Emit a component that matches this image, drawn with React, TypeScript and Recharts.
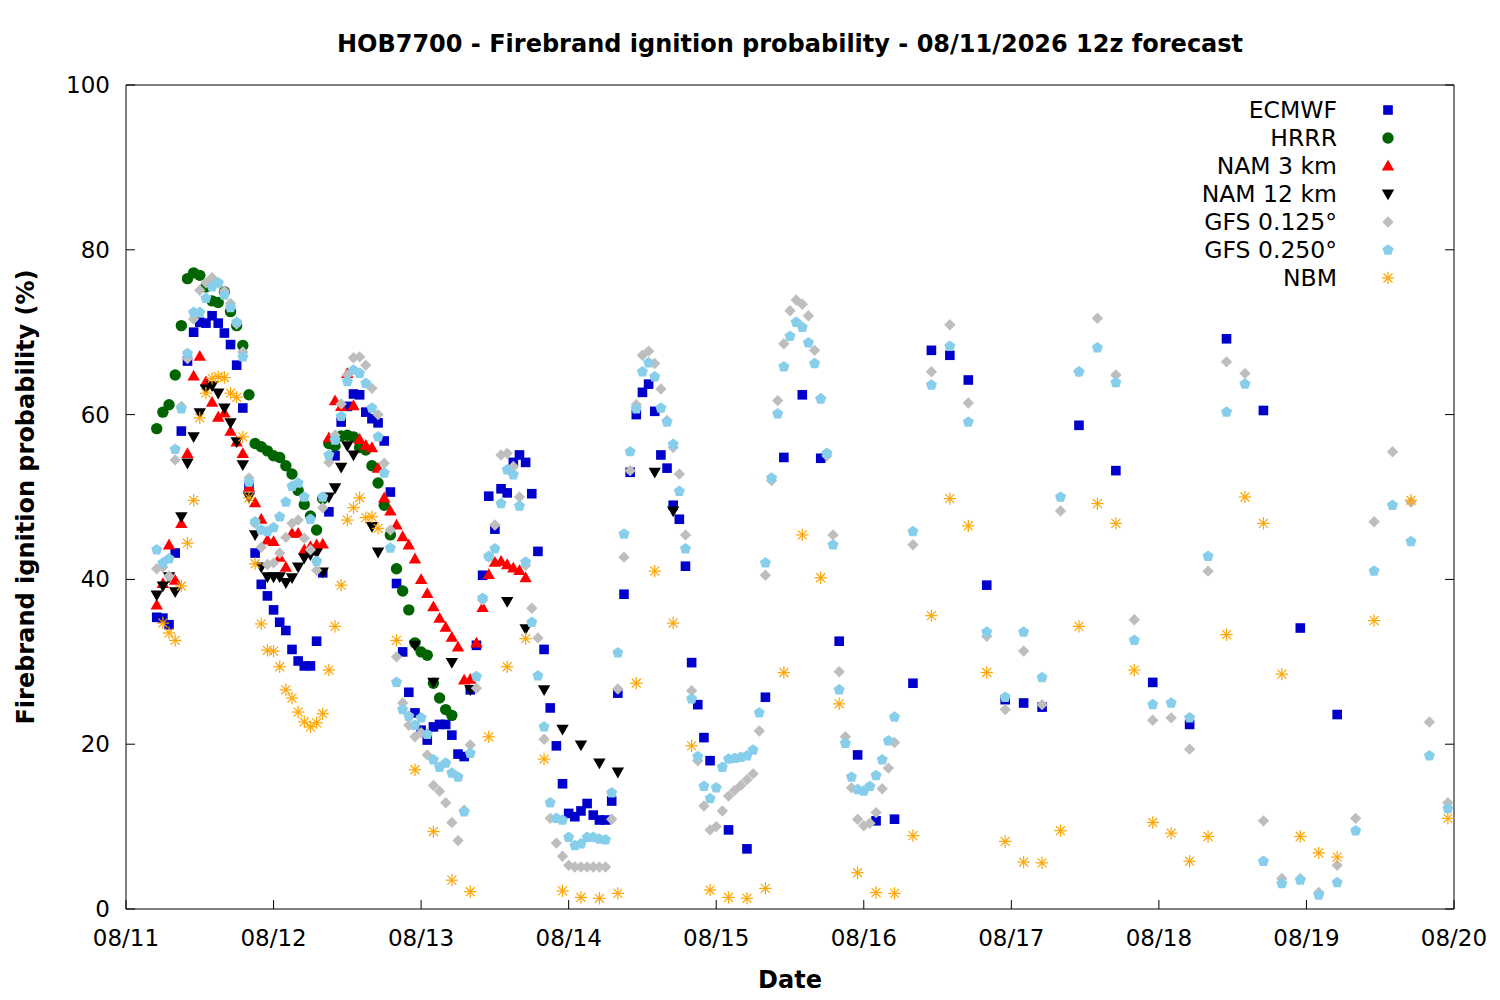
import React from 'react';
import { ScatterChart, Scatter, XAxis, YAxis, Legend } from 'recharts';

// hours since 08/11 00 local; forecast hour 0 (12z) falls at hour 5
const range = (from: number, to: number, step: number) => {
  const out: number[] = [];
  for (let h = from; h <= to; h += step) out.push(h);
  return out;
};

const dayTicks = [0, 24, 48, 72, 96, 120, 144, 168, 192, 216];
const dayLabels = ['08/11', '08/12', '08/13', '08/14', '08/15', '08/16', '08/17', '08/18', '08/19', '08/20'];
const probTicks = [0, 20, 40, 60, 80, 100];

const ecmwfHours = [...range(5, 95, 1), ...range(98, 149, 3), ...range(155, 197, 6)];
const ecmwfValues = [
  35.4, 35.3, 34.5, 43.2, 58.0, 66.5, 70.0, 71.2, 71.1, 72.0,
  71.1, 69.9, 68.5, 66.0, 60.8, 51.3, 43.2, 39.4, 38.0, 36.3,
  34.8, 33.8, 31.5, 30.1, 29.5, 29.5, 32.5, 40.8, 48.2, 55.0,
  59.1, 61.0, 62.5, 62.4, 60.3, 59.5, 59.0, 56.8, 50.6, 39.5,
  31.2, 26.3, 23.8, 21.7, 20.5, 22.1, 22.4, 22.4, 21.1, 18.8,
  18.5, 26.6, 32.0, 40.5, 50.1, 46.1, 51.0, 50.5, 54.2, 55.1,
  54.2, 50.4, 43.4, 31.5, 24.4, 19.8, 15.2, 11.6, 11.2, 11.9,
  12.8, 11.4, 10.8, 10.8, 13.1, 26.2, 38.2, 53.0, 60.0, 62.7,
  63.7, 60.4, 55.1, 53.5, 49.0, 47.3, 41.6, 29.9, 24.8, 20.8,
  18.0,
  9.6, 7.3, 25.7, 54.8, 62.4, 54.7, 32.5, 18.7, 10.7, 10.9,
  27.4, 67.8, 67.2, 64.2, 39.3, 25.4, 25.0, 24.5,
  58.7, 53.2, 27.5, 22.4, 69.2, 60.5, 34.1, 23.6,
];

const hrrrHours = range(5, 53, 1);
const hrrrValues = [
  58.3, 60.3, 61.2, 64.8, 70.8, 76.5, 77.2, 76.9, 75.5, 73.8,
  73.6, 74.9, 72.5, 70.8, 68.4, 62.4, 56.5, 56.1, 55.6, 55.0,
  54.8, 53.8, 52.8, 50.8, 49.1, 47.7, 46.0, 49.8, 56.5, 56.2,
  57.4, 57.5, 57.3, 56.0, 55.7, 53.8, 51.7, 49.0, 45.4, 41.3,
  38.6, 36.3, 32.3, 31.2, 30.8, 27.4, 25.6, 24.2, 23.5,
];

const nam3Hours = range(5, 65, 1);
const nam3Values = [
  36.9, 39.5, 44.2, 39.9, 46.8, 55.3, 64.7, 67.1, 64.0, 61.5,
  59.7, 60.2, 58.0, 56.7, 55.3, 51.2, 49.3, 47.3, 44.8, 44.6,
  42.7, 41.5, 45.6, 45.6, 43.6, 44.0, 44.2, 44.3, 57.2, 61.7,
  61.0, 65.0, 61.1, 57.0, 56.3, 56.0, 53.5, 49.9, 48.3, 46.6,
  45.2, 44.2, 42.5, 40.0, 38.3, 36.7, 35.3, 34.2, 33.0, 31.8,
  27.8, 27.9, 32.3, 36.6, 40.6, 42.1, 42.2, 41.8, 41.4, 41.1, 40.2,
];

const nam12Hours = [...range(5, 37, 1), 40, 41, 47, 50, 53, 56, 62, 65, 68, 71, 74, 77, 80, 86, 89];
const nam12Values = [
  38.1, 39.2, 40.3, 38.5, 47.6, 54.1, 57.3, 60.2, 63.1, 63.5,
  62.6, 60.8, 59.0, 56.7, 53.9, 50.0, 45.4, 41.5, 40.3, 40.3,
  40.3, 39.6, 40.2, 41.5, 42.6, 43.0, 43.2, 40.9, 50.0, 51.1,
  53.6, 56.2, 55.1,
  46.4, 43.3,
  32.0, 27.5, 29.9, 26.6, 37.3, 34.0, 26.6, 21.8, 19.9, 17.7, 16.6, 53.0, 48.3,
];

const gfsHours = [...range(5, 125, 1), ...range(128, 215, 3)];
const gfs0125Values = [
  41.3, 41.5, 40.4, 54.5, 61.0, 66.8, 71.6, 75.1, 76.0, 76.6,
  76.0, 75.0, 73.5, 71.0, 67.6, 52.3, 46.8, 43.9, 41.8, 42.0,
  43.2, 45.1, 46.8, 47.2, 45.0, 43.6, 41.1, 48.7, 54.2, 57.5,
  61.3, 64.8, 66.9, 67.0, 66.0, 63.2, 60.0, 54.1, 46.0, 30.6,
  25.0, 22.3, 20.9, 21.4, 18.7, 15.0, 14.3, 12.9, 10.5, 8.3,
  12.0, 19.9, 26.8, 37.5, 42.7, 46.6, 55.1, 55.3, 53.7, 50.0,
  41.7, 36.5, 32.9, 20.6, 11.0, 8.0, 6.4, 5.3, 5.1, 5.1,
  5.1, 5.1, 5.1, 5.1, 10.9, 26.7, 42.7, 53.2, 61.2, 67.2,
  67.7, 66.2, 63.1, 59.3, 56.0, 52.8, 45.4, 26.5, 18.0, 12.5,
  9.6, 10.0, 11.9, 13.7, 14.4, 15.0, 15.7, 16.4, 21.6, 40.5,
  52.0, 61.7, 68.6, 72.6, 73.9, 73.4, 72.0, 67.8, 62.0, 55.0,
  45.4, 28.8, 20.9, 14.7, 10.9, 10.1, 10.4, 11.7, 14.6, 17.1,
  20.2,
  44.2, 65.2, 70.9, 61.4, 33.1, 24.2, 31.3, 24.8, 48.3, 65.2,
  71.7, 64.8, 35.1, 22.9, 23.2, 19.4, 41.0, 66.4, 65.0, 10.7,
  3.7, 3.7, 2.0, 5.3, 11.0, 47.0, 55.5, 49.4, 22.7, 12.9,
];
const gfs0250Values = [
  43.6, 42.0, 42.5, 55.8, 60.7, 67.4, 72.4, 72.4, 74.1, 75.5,
  76.0, 74.5, 73.0, 71.2, 67.0, 51.8, 47.0, 46.0, 45.8, 46.3,
  47.6, 49.4, 51.3, 51.7, 50.0, 47.3, 42.2, 50.0, 55.1, 56.9,
  59.8, 64.0, 65.4, 65.0, 63.8, 60.8, 57.3, 52.9, 43.8, 27.5,
  24.2, 23.4, 22.3, 23.2, 21.2, 18.1, 17.2, 17.7, 16.5, 16.0,
  11.8, 18.9, 28.2, 37.7, 42.8, 43.7, 49.2, 53.3, 52.7, 48.9,
  42.1, 34.8, 28.3, 22.1, 12.9, 11.0, 10.8, 8.7, 7.7, 7.9,
  8.7, 8.7, 8.5, 8.4, 14.1, 31.1, 45.5, 55.5, 60.7, 65.2,
  66.3, 64.6, 60.8, 59.1, 56.4, 50.7, 43.7, 25.5, 18.5, 14.9,
  13.4, 14.7, 17.2, 18.2, 18.3, 18.4, 18.6, 19.3, 23.8, 42.0,
  52.3, 60.1, 65.8, 69.5, 71.2, 70.6, 68.7, 66.2, 61.9, 55.3,
  44.2, 26.6, 20.1, 16.0, 14.5, 14.3, 14.9, 16.2, 18.1, 20.4,
  23.3,
  45.8, 63.6, 68.3, 59.1, 33.6, 25.7, 33.6, 28.1, 50.0, 65.2,
  68.1, 63.9, 32.6, 24.8, 25.0, 23.2, 42.8, 60.3, 63.7, 5.8,
  3.1, 3.5, 1.7, 3.2, 9.5, 41.0, 49.0, 44.6, 18.6, 12.2,
];

const nbmHours = [...range(6, 41, 1), ...range(44, 197, 3), 203, 209, 215];
const nbmValues = [
  34.7, 33.5, 32.6, 39.2, 44.4, 49.6, 59.6, 62.6, 64.4, 64.6,
  64.5, 62.6, 62.1, 57.3, 49.9, 41.9, 34.6, 31.4, 31.3, 29.4,
  26.6, 25.6, 23.9, 22.7, 22.1, 22.6, 23.7, 29.0, 34.3, 39.3,
  47.2, 48.7, 49.9, 47.5, 47.6, 46.2,
  32.6, 16.9, 9.4, 3.5, 2.1, 20.9, 29.4, 32.8, 18.2, 2.2,
  1.4, 1.3, 1.9, 27.4, 41.0, 34.7, 19.8, 2.3, 1.4, 1.3,
  2.5, 28.7, 45.4, 40.2, 24.9, 4.4, 2.0, 1.9, 8.9, 35.6,
  49.8, 46.5, 28.7, 8.2, 5.7, 5.6, 9.5, 34.3, 49.2, 46.8,
  29.0, 10.5, 9.2, 5.8, 8.8, 33.3, 50.0, 46.8, 28.5, 8.8,
  6.8, 6.3,
  35.0, 49.6, 11.0,
];

const toPoints = (hours: number[], values: number[]) =>
  hours.map((h, i) => ({ hour: h, prob: values[i] }));

type Kind = 'square' | 'circle' | 'up' | 'down' | 'diamond' | 'pentagon' | 'star';

const series: { name: string; color: string; kind: Kind; data: { hour: number; prob: number }[] }[] = [
  { name: 'ECMWF', color: '#0000cd', kind: 'square', data: toPoints(ecmwfHours, ecmwfValues) },
  { name: 'HRRR', color: '#006400', kind: 'circle', data: toPoints(hrrrHours, hrrrValues) },
  { name: 'NAM 3 km', color: '#ff0000', kind: 'up', data: toPoints(nam3Hours, nam3Values) },
  { name: 'NAM 12 km', color: '#000000', kind: 'down', data: toPoints(nam12Hours, nam12Values) },
  { name: 'GFS 0.125°', color: '#bebebe', kind: 'diamond', data: toPoints(gfsHours, gfs0125Values) },
  { name: 'GFS 0.250°', color: '#87ceeb', kind: 'pentagon', data: toPoints(gfsHours, gfs0250Values) },
  { name: 'NBM', color: '#ffa500', kind: 'star', data: toPoints(nbmHours, nbmValues) },
];

const FONT = "'DejaVu Sans', sans-serif";

function marker(kind: Kind, cx: number, cy: number, color: string) {
  switch (kind) {
    case 'square':
      return <rect x={cx - 4.8} y={cy - 4.8} width={9.6} height={9.6} fill={color} />;
    case 'circle':
      return <circle cx={cx} cy={cy} r={5.7} fill={color} />;
    case 'up':
      return <polygon points={`${cx},${cy - 6.2} ${cx + 6.2},${cy + 4.6} ${cx - 6.2},${cy + 4.6}`} fill={color} />;
    case 'down':
      return <polygon points={`${cx},${cy + 6.2} ${cx + 6.2},${cy - 4.6} ${cx - 6.2},${cy - 4.6}`} fill={color} />;
    case 'diamond':
      return <polygon points={`${cx},${cy - 5.7} ${cx + 5.7},${cy} ${cx},${cy + 5.7} ${cx - 5.7},${cy}`} fill={color} />;
    case 'pentagon': {
      const pts = [0, 1, 2, 3, 4]
        .map((k) => {
          const a = -Math.PI / 2 + (k * 2 * Math.PI) / 5;
          return `${cx + 5.8 * Math.cos(a)},${cy + 5.8 * Math.sin(a)}`;
        })
        .join(' ');
      return <polygon points={pts} fill={color} />;
    }
    default: {
      const r = 6.2;
      const d = r * 0.72;
      return (
        <g stroke={color} strokeWidth={1.2}>
          <line x1={cx - r} y1={cy} x2={cx + r} y2={cy} />
          <line x1={cx} y1={cy - r} x2={cx} y2={cy + r} />
          <line x1={cx - d} y1={cy - d} x2={cx + d} y2={cy + d} />
          <line x1={cx - d} y1={cy + d} x2={cx + d} y2={cy - d} />
        </g>
      );
    }
  }
}

const BottomTick = ({ x, y, payload }: any) => (
  <g>
    <line x1={x} y1={y} x2={x} y2={y - 9} stroke="#000" />
    <text x={x} y={y + 37} textAnchor="middle" fontFamily={FONT} fontSize={23} fill="#000">
      {dayLabels[dayTicks.indexOf(payload.value)]}
    </text>
  </g>
);
const TopTick = ({ x, y }: any) => <line x1={x} y1={y} x2={x} y2={y + 9} stroke="#000" />;
const LeftTick = ({ x, y, payload }: any) => (
  <g>
    <line x1={x} y1={y} x2={x + 9} y2={y} stroke="#000" />
    <text x={x - 16} y={y + 8} textAnchor="end" fontFamily={FONT} fontSize={23} fill="#000">
      {payload.value}
    </text>
  </g>
);
const RightTick = ({ x, y }: any) => <line x1={x} y1={y} x2={x - 9} y2={y} stroke="#000" />;

const LegendBox = () => (
  <svg width={320} height={210}>
    {series.map((s, i) => (
      <g key={s.name}>
        <text x={237} y={20 + 28 * i + 8} textAnchor="end" fontFamily={FONT} fontSize={23.5} fill="#000">
          {s.name}
        </text>
        {marker(s.kind, 288, 20 + 28 * i, s.color)}
      </g>
    ))}
  </svg>
);

export default function App() {
  return (
    <div style={{ position: 'absolute', left: 0, top: 0, width: 1500, height: 1000, background: '#fff' }}>
      <ScatterChart width={1500} height={1000} margin={{ top: 84, right: 45, bottom: 51, left: 66 }}>
        <XAxis
          dataKey="hour"
          type="number"
          domain={[0, 216]}
          ticks={dayTicks}
          allowDataOverflow
          height={40}
          tickSize={0}
          tickMargin={0}
          tickLine={false}
          tick={BottomTick}
          axisLine={{ stroke: '#000' }}
        />
        <XAxis
          xAxisId="top"
          orientation="top"
          type="number"
          domain={[0, 216]}
          ticks={dayTicks}
          allowDataOverflow
          height={1}
          tickSize={0}
          tickMargin={0}
          tickLine={false}
          tick={TopTick}
          axisLine={{ stroke: '#000' }}
        />
        <YAxis
          dataKey="prob"
          type="number"
          domain={[0, 100]}
          ticks={probTicks}
          allowDataOverflow
          width={60}
          tickSize={0}
          tickMargin={0}
          tickLine={false}
          tick={LeftTick}
          axisLine={{ stroke: '#000' }}
        />
        <YAxis
          yAxisId="right"
          orientation="right"
          type="number"
          domain={[0, 100]}
          ticks={probTicks}
          allowDataOverflow
          width={1}
          tickSize={0}
          tickMargin={0}
          tickLine={false}
          tick={RightTick}
          axisLine={{ stroke: '#000' }}
        />
        <Legend
          layout="horizontal"
          verticalAlign="middle"
          align="center"
          content={LegendBox}
          wrapperStyle={{ left: 1100, top: 90, width: 320, height: 210 }}
        />
        {series.map((s) => (
          <Scatter
            key={s.name}
            name={s.name}
            data={s.data}
            fill={s.color}
            isAnimationActive={false}
            shape={(p: any) => marker(s.kind, p.cx, p.cy, s.color)}
          />
        ))}
      </ScatterChart>
      <svg
        width={1500}
        height={1000}
        style={{ position: 'absolute', left: 0, top: 0, pointerEvents: 'none' }}
      >
        <text x={790} y={52} textAnchor="middle" fontFamily={FONT} fontSize={24} fontWeight="bold">
          HOB7700 - Firebrand ignition probability - 08/11/2026 12z forecast
        </text>
        <text x={790} y={988} textAnchor="middle" fontFamily={FONT} fontSize={24} fontWeight="bold">
          Date
        </text>
        <text
          x={0}
          y={0}
          transform="translate(34,497) rotate(-90)"
          textAnchor="middle"
          fontFamily={FONT}
          fontSize={24}
          fontWeight="bold"
        >
          Firebrand ignition probability (%)
        </text>
      </svg>
    </div>
  );
}
